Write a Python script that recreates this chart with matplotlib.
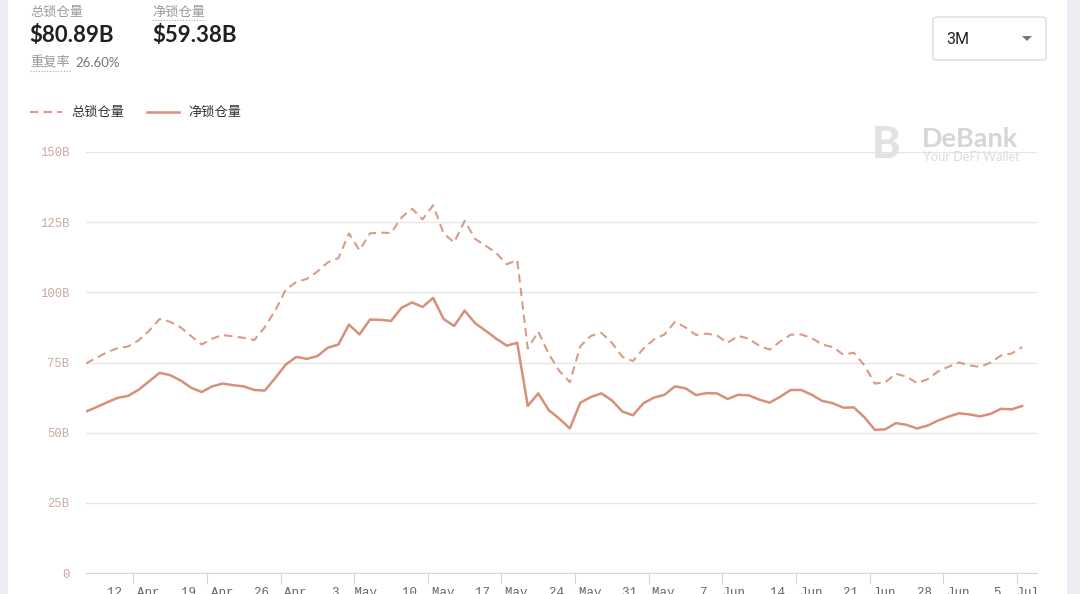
import matplotlib
matplotlib.use("Agg")
import matplotlib.pyplot as plt
import matplotlib.dates as mdates
from matplotlib.patches import Rectangle, FancyBboxPatch, Polygon
from matplotlib.lines import Line2D
import pandas as pd

##########################
## Data (daily)

start_date = "2021-04-07 12:00"

total_locked = [74.7, 76.6, 78.7, 80.1, 80.7, 82.9, 86.3, 90.5, 89.5, 87.5,
                84.4, 81.4, 83.5, 84.8, 84.3, 83.8, 83.0, 87.6, 93.6, 101.0,
                103.7, 104.8, 107.4, 110.7, 112.2, 121.0, 115.0, 121.0, 121.3, 121.1,
                126.7, 129.8, 126.0, 131.0, 121.0, 117.8, 125.5, 119.0, 116.6, 114.0,
                110.0, 111.5, 80.0, 86.0, 78.0, 72.0, 68.0, 80.8, 84.5, 85.6,
                82.0, 77.0, 75.5, 80.0, 83.2, 85.0, 89.5, 87.5, 84.8, 85.3,
                84.6, 82.0, 84.5, 83.5, 81.0, 79.6, 82.5, 84.9, 85.0, 83.7,
                81.4, 80.5, 77.8, 78.5, 74.0, 67.5, 68.0, 71.0, 70.0, 67.7,
                69.0, 71.8, 73.5, 75.0, 74.0, 73.4, 75.0, 77.5, 78.2, 80.5]

net_locked = [57.5, 59.1, 60.8, 62.4, 63.1, 65.3, 68.3, 71.3, 70.5, 68.6,
              66.0, 64.5, 66.5, 67.5, 66.9, 66.5, 65.2, 65.0, 69.5, 74.3,
              77.0, 76.3, 77.3, 80.3, 81.4, 88.5, 85.0, 90.3, 90.2, 89.8,
              94.5, 96.4, 94.8, 98.0, 90.5, 88.0, 93.5, 89.0, 86.3, 83.5,
              81.0, 82.0, 59.5, 64.0, 58.0, 55.0, 51.5, 60.7, 62.7, 64.0,
              61.5, 57.5, 56.2, 60.5, 62.5, 63.5, 66.5, 65.8, 63.4, 64.1,
              64.0, 62.0, 63.5, 63.3, 61.8, 60.7, 62.8, 65.2, 65.2, 63.5,
              61.3, 60.5, 58.9, 59.0, 55.5, 51.0, 51.2, 53.4, 52.8, 51.5,
              52.5, 54.3, 55.7, 56.9, 56.5, 55.8, 56.7, 58.5, 58.3, 59.5]

y_ticks = [0, 25, 50, 75, 100, 125, 150]
y_labels = ["0", "25B", "50B", "75B", "100B", "125B", "150B"]

header_total = "$80.89B"
header_net = "$59.38B"
overlap_rate = "26.60%"

dates = pd.date_range(start_date, periods=len(total_locked), freq="D")

line_col = "#d6907b"
W, H = 1080, 594


def fx(x):
    return x / W


def fy(y):
    return 1 - y / H


cjk = ["Noto Sans CJK SC", "DejaVu Sans"]

fig = plt.figure(figsize=(10.8, 5.94), dpi=100)
fig.patch.set_facecolor("white")

# grey page edges
fig.patches.append(Rectangle((0, 0), fx(8), 1, transform=fig.transFigure,
                             facecolor="#eceef3", edgecolor="none"))
fig.patches.append(Rectangle((fx(1067), 0), 1, 1, transform=fig.transFigure,
                             facecolor="#eceef3", edgecolor="none"))

##########################
## Chart
ax = fig.add_axes([fx(86), fy(573), fx(1037) - fx(86), fy(152) - fy(573)])
ax.plot(dates, total_locked, color=line_col, lw=1.5, ls=(0, (4, 2.5)), alpha=0.9)
ax.plot(dates, net_locked, color=line_col, lw=1.8)

ax.set_ylim(0, 150)
ax.set_xlim(pd.Timestamp("2021-04-07 12:00"), pd.Timestamp("2021-07-06 22:00"))
ax.set_yticks(y_ticks)
ax.set_yticklabels(y_labels)
ax.grid(axis="y", color="#e6e6e6", lw=1)
ax.set_axisbelow(True)
for s in ["top", "right", "left"]:
    ax.spines[s].set_visible(False)
ax.spines["bottom"].set_color("#ccd6eb")
ax.tick_params(axis="y", length=0, pad=12, labelsize=8.8, labelcolor="#c9aaa2")
for lab in ax.get_yticklabels():
    lab.set_fontfamily("Liberation Mono")

ax.xaxis.set_major_locator(mdates.WeekdayLocator(byweekday=mdates.MO))
ax.xaxis.set_major_formatter(mdates.DateFormatter("%-d. %b"))
ax.tick_params(axis="x", length=8, color="#ccd6eb", pad=2, labelsize=9,
               labelcolor="#666666")
for lab in ax.get_xticklabels():
    lab.set_fontfamily("Liberation Mono")
    lab.set_horizontalalignment("center")

##########################
## Header
fig.text(fx(30), fy(12), "总锁仓量", family=cjk, fontsize=9.5, color="#9a9a9a", va="center")
fig.text(fx(29), fy(35), header_total, family=["Lato", "DejaVu Sans"], fontsize=16,
         fontweight="bold", color="#1f1f24", va="center")
fig.text(fx(152), fy(12), "净锁仓量", family=cjk, fontsize=9.5, color="#9a9a9a", va="center")
fig.text(fx(152), fy(35), header_net, family=["Lato", "DejaVu Sans"], fontsize=16,
         fontweight="bold", color="#1f1f24", va="center")
fig.text(fx(30), fy(63), "重复率", family=cjk, fontsize=9.5, color="#9a9a9a", va="center")
fig.text(fx(75), fy(63), overlap_rate, family=["Lato", "DejaVu Sans"], fontsize=9.5,
         color="#777777", va="center")
# dotted underlines
for x0, x1, y in [(152, 205, 20), (30, 70, 71)]:
    fig.add_artist(Line2D([fx(x0), fx(x1)], [fy(y), fy(y)], transform=fig.transFigure,
                          color="#aaaaaa", lw=0.8, ls=(0, (1, 1.5))))

# legend
fig.add_artist(Line2D([fx(30), fx(62)], [fy(112), fy(112)], transform=fig.transFigure,
                      color=line_col, lw=1.5, ls=(0, (4, 2.5)), alpha=0.9))
fig.text(fx(71), fy(112), "总锁仓量", family=cjk, fontsize=9.5, color="#333333", va="center")
fig.add_artist(Line2D([fx(147), fx(179)], [fy(112), fy(112)], transform=fig.transFigure,
                      color=line_col, lw=1.8))
fig.text(fx(188), fy(112), "净锁仓量", family=cjk, fontsize=9.5, color="#333333", va="center")

# 3M dropdown
fig.patches.append(FancyBboxPatch((fx(933), fy(60)), fx(1046) - fx(933), fy(17) - fy(60),
                                  boxstyle="round,pad=0,rounding_size=0.004",
                                  transform=fig.transFigure, facecolor="white",
                                  edgecolor="#dcdcdc", lw=1))
fig.text(fx(946), fy(39), "3M", family=["Roboto", "DejaVu Sans"], fontsize=11.5,
         color="#222222", va="center")
fig.patches.append(Polygon([(fx(1022), fy(36)), (fx(1032), fy(36)), (fx(1027), fy(41))],
                           closed=True, transform=fig.transFigure,
                           facecolor="#777777", edgecolor="none"))

# DeBank watermark
fig.text(fx(872), fy(145), "B", family=["Lato", "DejaVu Sans"], fontsize=31,
         fontweight="black", color="#e2e2e2", va="center")
fig.text(fx(922), fy(139), "DeBank", family=["Lato", "DejaVu Sans"], fontsize=19.5,
         fontweight="bold", color="#d6d6d6", va="center")
fig.text(fx(923), fy(157), "Your DeFi Wallet", family=["Lato", "DejaVu Sans"], fontsize=9.2,
         color="#dcdcdc", va="center")

fig.savefig("out.png", dpi=100)
